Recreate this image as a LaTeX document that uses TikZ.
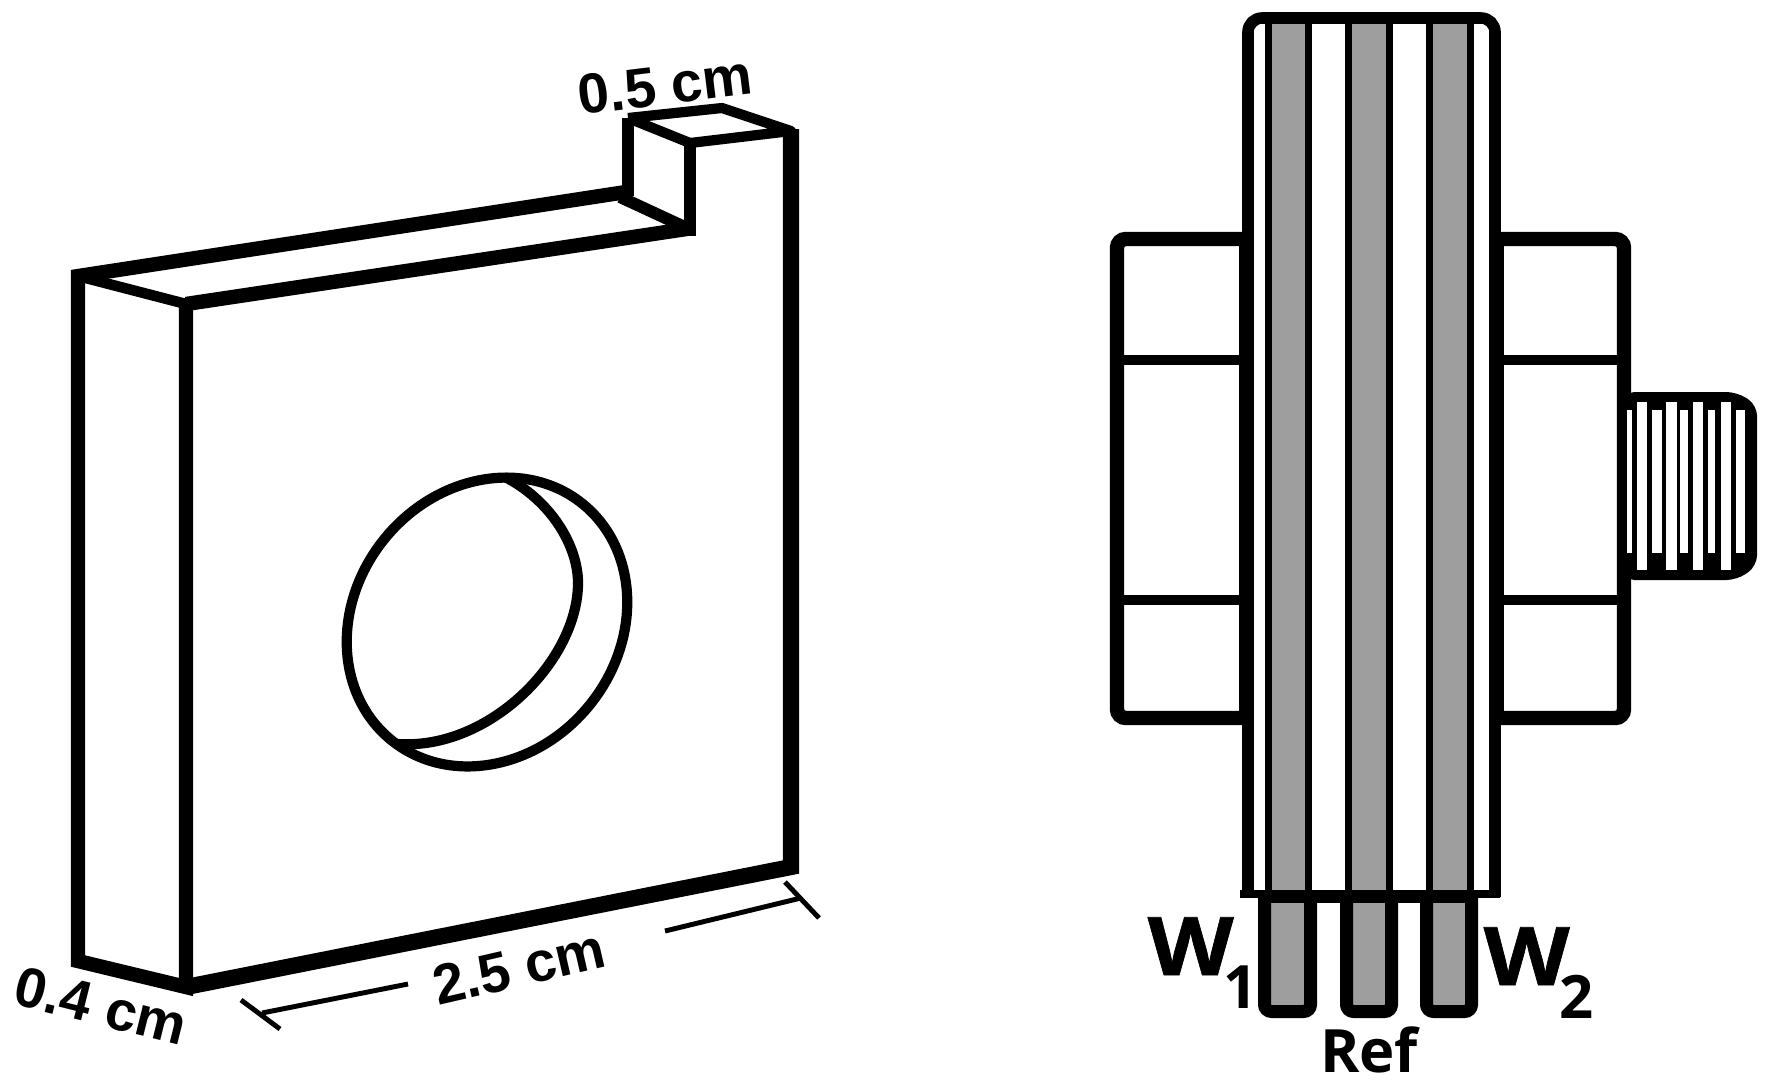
\documentclass[tikz,border=0pt]{standalone}
\usepackage{fontspec}
\newfontfamily\dimfont[BoldFont={Liberation Sans Bold}]{Liberation Sans}
\newfontfamily\labfont[BoldFont={Open Sans Bold}]{Open Sans}
\newfontfamily\wfont[FakeStretch=1.1,FakeBold=0.8]{Open Sans Bold}
\newcommand{\wsub}[1]{W\hspace*{-3pt}\raisebox{-0.42em}{\labfont\bfseries\fontsize{17pt}{17pt}\selectfont #1}}
\definecolor{stripgray}{gray}{0.62}
\begin{document}
\begin{tikzpicture}[x=0.01cm,y=-0.01cm,
  heavy/.style={line width=4.1pt},
  edge/.style={line width=3.4pt},
  thinedge/.style={line width=2.9pt},
  dimline/.style={line width=1.4pt},
  strip/.style={line width=2pt},
  tab/.style={line width=3.7pt,fill=stripgray,rounded corners=2pt},
  dimtext/.style={font=\dimfont\bfseries\fontsize{16pt}{18pt}\selectfont,inner sep=0pt},
  wtext/.style={font=\wfont\fontsize{23pt}{25pt}\selectfont,inner sep=0pt,anchor=base west}]
\useasboundingbox (0,0) rectangle (1767,1087);
% block
\coordinate (A) at (78,276);
\coordinate (B) at (186,304);
\coordinate (C) at (186,987);
\coordinate (D) at (78,961);
\coordinate (E) at (791,867);
\coordinate (F) at (791,131);
\coordinate (G) at (689,229);
\coordinate (Gt) at (690,143);
\coordinate (N) at (626,192);
\coordinate (Tl) at (628,118);
\coordinate (Tb) at (722,108);
\draw[heavy] (78,270)--(D)--(C)--(B);
\draw[heavy,line width=4.6pt] (C)--(E)--(791,129);
\draw[heavy] (72,277)--(N);
\draw[heavy] (B)--(693,228);
\draw[edge,line width=3pt] (A)--(B);
\draw[edge] (Tl)--(628,196);
\draw[edge] (Gt)--(690,236);
\draw[thinedge] (Tl)--(Gt);
\draw[thinedge,line join=round] (Tl)--(Tb)--(F)--(Gt);
\draw[edge] (620,197)--(G);
% hole
\coordinate (H) at (487,622);
\draw[thinedge,rotate around={51:(H)}] (H) ellipse [x radius=152,y radius=132];
\draw[thinedge] (505,477) .. controls (550,500) and (578,545) .. (578,583)
  .. controls (578,660) and (490,750) .. (398,744);
% dimensions
\coordinate (La) at (241,1000);
\coordinate (Lb) at (280,1029);
\coordinate (Ra) at (785,882);
\coordinate (Rb) at (819,918);
\draw[dimline] (La)--(Lb);
\draw[dimline] (Ra)--(Rb);
\draw[dimline] (262,1013)--(408,984);
\draw[dimline] (801,898)--(665,931);
\node[dimtext,rotate=7] (top) at (665,85) {0.5 cm};
\node[dimtext,rotate=13] (len) at (519,967) {2.5 cm};
\node[dimtext,rotate=-14] (thk) at (101,1006) {0.4 cm};
% electrode stack
\foreach \xa/\xb in {1264.5/1310.5,1346.5/1391.5,1426.5/1471.5}{
  \draw[tab] (\xa,897)--(\xa,1011.5)--(\xb,1011.5)--(\xb,897);
}
\foreach \xa/\xb in {1268.5/1308,1348.5/1389.5,1429.5/1470.5}{
  \fill[stripgray] (\xa,22) rectangle (\xb,893);
  \draw[strip] (\xa,22)--(\xa,893);
  \draw[strip] (\xb,22)--(\xb,893);
}
\draw[edge,line width=3.3pt,rounded corners=4pt] (1248,897)--(1248,18)--(1495,18)--(1495,897);
\draw[edge,line width=2.4pt] (1240,894)--(1500,894);
\draw[edge] (1258,896.5)--(1478,896.5);
% nuts
\draw[heavy,rounded corners=2.5pt] (1245,239)--(1117,239)--(1117,718)--(1245,718);
\draw[heavy,rounded corners=2.5pt] (1497,239)--(1624,239)--(1624,718)--(1497,718);
\foreach \ya in {360,600}{
  \draw[thinedge] (1117,\ya)--(1245,\ya);
  \draw[thinedge] (1497,\ya)--(1624,\ya);
}
\draw[heavy] (1246,236)--(1246,721);
\draw[heavy] (1497,236)--(1497,721);
% thread
\fill[rounded corners=3pt] (1624,392)--(1737,392)--(1757,405)--(1757,566)--(1737,580)--(1624,580)--cycle;
\foreach \xa/\xb/\ya/\yb in {1627/1632/410/553,1637/1647/402/570,1652/1662/410/553,1666/1677/402/570,1680/1688/410/553,1693/1703/402/570,1708/1715/410/553,1721/1731/402/570,1736/1745/410/553}{
  \fill[white] (\xa,\ya) rectangle (\xb,\yb);
}
% labels
\node[wtext] (wone) at (1147,975) {\wsub{1}};
\node[wtext] (wtwo) at (1483,985) {\wsub{2}};
\node[font=\labfont\bfseries\fontsize{17pt}{19pt}\selectfont,inner sep=0pt,anchor=base] (ref) at (1369,1072) {Ref};
\end{tikzpicture}
\end{document}
